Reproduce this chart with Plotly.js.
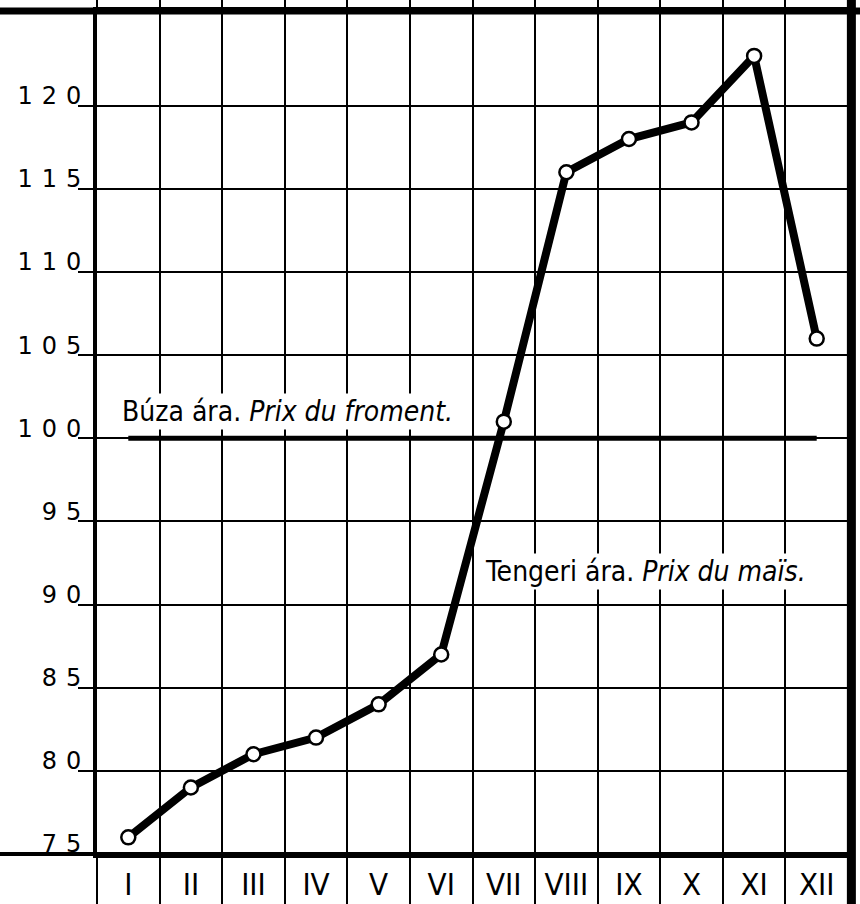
<!DOCTYPE html>
<html><head><meta charset="utf-8">
<script src="https://cdn.plot.ly/plotly-3.0.1.min.js"></script>
<style>
html,body{margin:0;padding:0;background:#fff;}
#chart{width:860px;height:904px;}
.ytick text{letter-spacing:9px;}
</style></head><body><div id="chart"></div>
<script>
const months = ['I','II','III','IV','V','VI','VII','VIII','IX','X','XI','XII'];
const maizePrice = [76, 79, 81, 82, 84, 87, 101, 116, 118, 119, 123, 106];
const wheatPrice = [100, 100, 100, 100, 100, 100, 100, 100, 100, 100, 100, 100];
const yTickVals = [75, 80, 85, 90, 95, 100, 105, 110, 115, 120];
const wheatLabel = 'Búza ára. <i>Prix du froment.</i>';
const maizeLabel = 'Tengeri ára. <i>Prix du maïs.</i>';

const condensed = '"DejaVu Sans Condensed", "Liberation Sans Narrow", "DejaVu Sans", sans-serif';

const traces = [
  {x: months, y: wheatPrice, type: 'scatter', mode: 'lines',
   line: {color: '#000', width: 5}, hoverinfo: 'skip'},
  {x: months, y: maizePrice, type: 'scatter', mode: 'lines+markers',
   line: {color: '#000', width: 8},
   marker: {size: 14, color: '#fff', line: {color: '#000', width: 2.5}}}
];

const layout = {
  width: 860, height: 904,
  margin: {l: 97, r: 12, t: 11, b: 50},
  paper_bgcolor: '#fff', plot_bgcolor: '#fff',
  showlegend: false,
  xaxis: {
    type: 'category', range: [-0.5, 11.5], tickson: 'boundaries',
    ticks: 'outside', ticklen: 50, tickwidth: 2, tickcolor: '#000',
    showgrid: true, gridcolor: '#000', gridwidth: 2,
    showline: true, linecolor: '#000', linewidth: 4, mirror: 'allticks',
    tickfont: {family: condensed, size: 31, color: '#000'},
    zeroline: false, fixedrange: true
  },
  yaxis: {
    range: [75, 125.7], tickmode: 'array', tickvals: yTickVals,
    ticks: 'outside', ticklen: 15, tickwidth: 2, tickcolor: '#000',
    showgrid: true, gridcolor: '#000', gridwidth: 2,
    showline: true, linecolor: '#000', linewidth: 4,
    ticklabelshift: -10, ticklabelstandoff: -17,
    tickfont: {family: '"DejaVu Sans", sans-serif', size: 24, color: '#000'},
    zeroline: false, fixedrange: true
  },
  shapes: [
    {type: 'line', xref: 'paper', yref: 'paper', x0: -0.14, x1: 1.02, y0: 1, y1: 1,
     line: {color: '#000', width: 7}, layer: 'above'},
    {type: 'line', xref: 'paper', yref: 'paper', x0: -0.14, x1: 1.0, y0: 0, y1: 0,
     line: {color: '#000', width: 4}, layer: 'above'},
    {type: 'line', xref: 'paper', yref: 'paper', x0: 1.0045, x1: 1.0045, y0: -0.1, y1: 1.02,
     line: {color: '#000', width: 9}, layer: 'above'}
  ],
  annotations: [
    {x: -0.13, y: 101.6, xref: 'x', yref: 'y', text: wheatLabel, showarrow: false,
     xanchor: 'left', yanchor: 'middle', font: {family: condensed, size: 28, color: '#000'},
     bgcolor: '#fff'},
    {x: 5.67, y: 92, xref: 'x', yref: 'y', text: maizeLabel, showarrow: false,
     xanchor: 'left', yanchor: 'middle', font: {family: condensed, size: 28, color: '#000'},
     bgcolor: '#fff'}
  ]
};

Plotly.newPlot('chart', traces, layout, {staticPlot: true, displayModeBar: false});
</script></body></html>
